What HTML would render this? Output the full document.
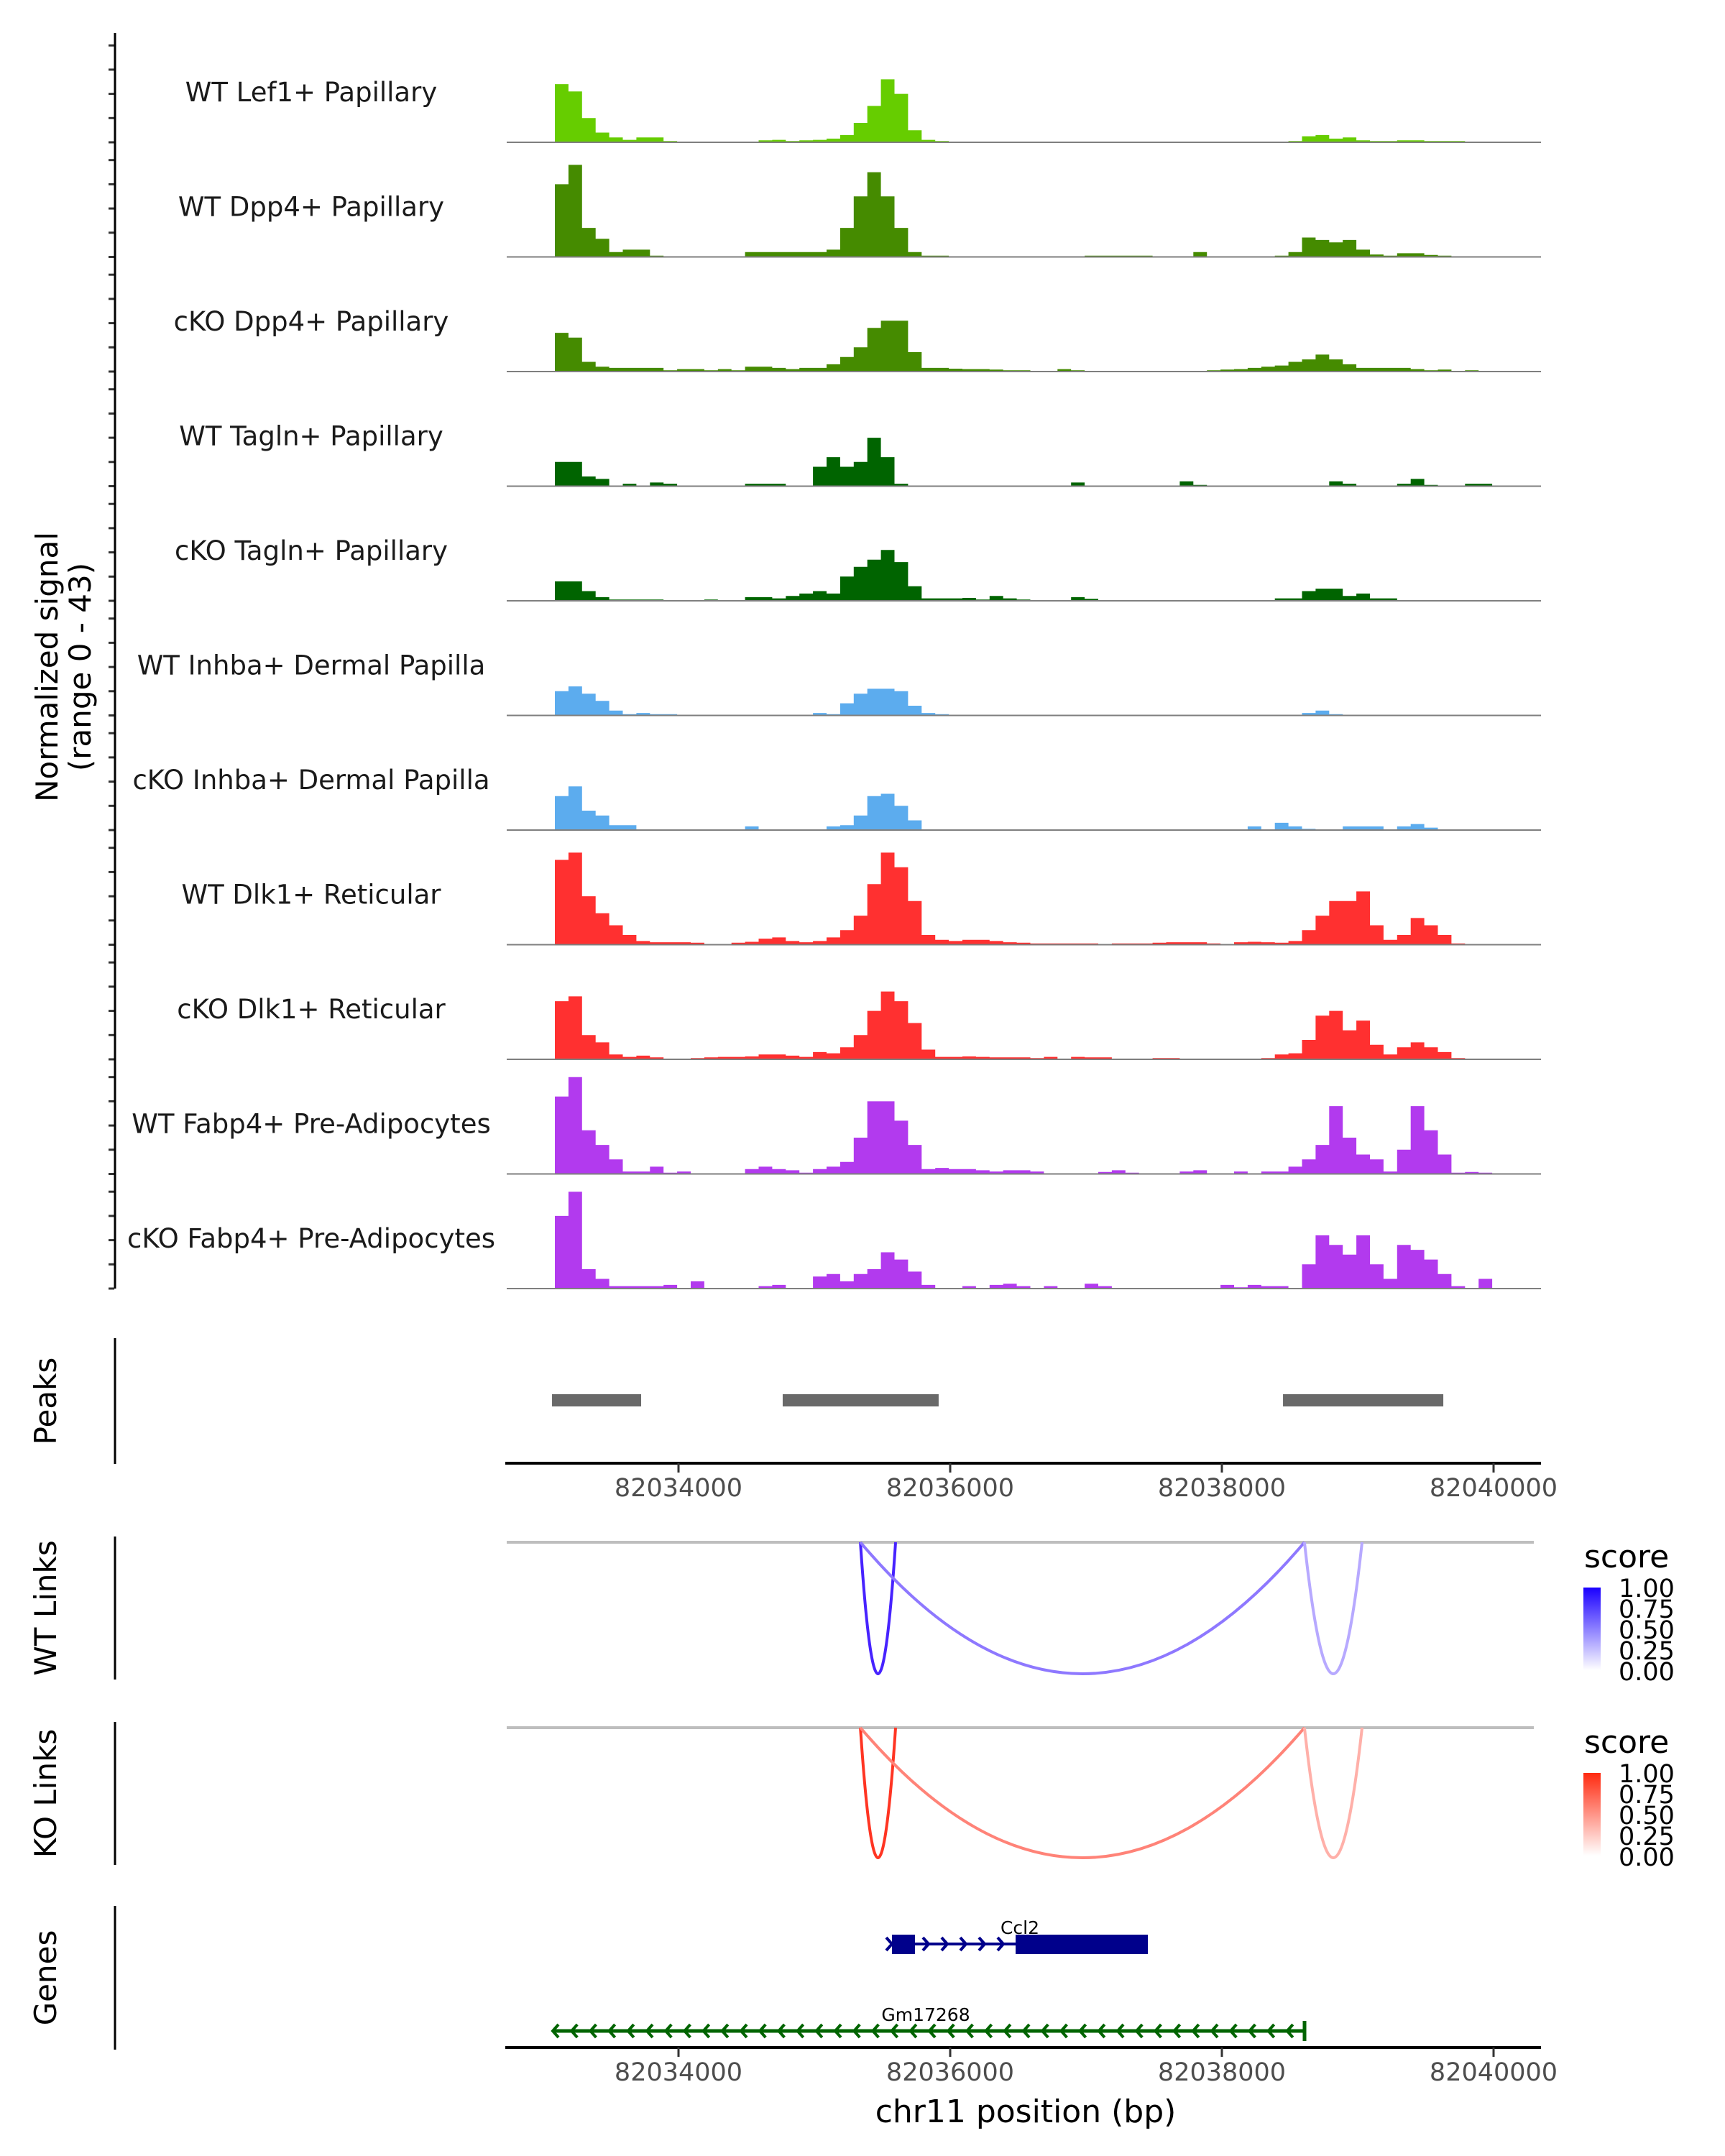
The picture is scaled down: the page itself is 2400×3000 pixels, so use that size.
<!DOCTYPE html>
<html><head><meta charset="utf-8">
<style>
html,body{margin:0;padding:0;background:#fff;}
svg{display:block;font-family:"DejaVu Sans","Liberation Sans",sans-serif;}
</style></head>
<body>
<svg id="chart" xmlns="http://www.w3.org/2000/svg" width="2400" height="3000" viewBox="0 0 2400 3000">
<rect width="2400" height="3000" fill="#fff"/>
<g id="tracks"></g>
<g id="peaks"></g>
<g id="links"></g>
<g id="genes"></g>
<g id="axes"></g>
</svg>
<script>
// ---------- data ----------
const trackNames = ["WT Lef1+ Papillary","WT Dpp4+ Papillary","cKO Dpp4+ Papillary","WT Tagln+ Papillary","cKO Tagln+ Papillary","WT Inhba+ Dermal Papilla","cKO Inhba+ Dermal Papilla","WT Dlk1+ Reticular","cKO Dlk1+ Reticular","WT Fabp4+ Pre-Adipocytes","cKO Fabp4+ Pre-Adipocytes"];
const trackColors = ["#66cd00","#458b00","#458b00","#006400","#006400","#5cacee","#5cacee","#ff3030","#ff3030","#b23aee","#b23aee"];
const binStart = 82033090;
const binSize = 100;
const sigLef1WT = [24,21,10,4,2,1,2,2,0.5,0.3,0.2,0.2,0.2,0.2,0.2,0.8,1,0.5,0.8,1,1.5,3,8,15,26,20,5,1,0.5,0.3,0.3,0.3,0.3,0.3,0.3,0.3,0.3,0.3,0.3,0.3,0.3,0.3,0.3,0.3,0.3,0.3,0.3,0.3,0.3,0.3,0.3,0.3,0.3,0.3,0.5,2.5,3,1.5,2,0.8,0.5,0.5,0.8,0.8,0.5,0.5,0.5,0.3,0];
const sigDpp4WT = [30,38,12,7.5,2,3,3,0.5,0.3,0,0,0,0,0,2,2,2,2,2,2,3,12,25,35,25,12,2,0.5,0.5,0,0,0,0,0,0,0,0,0,0,0.5,0.5,0.5,0.5,0.5,0.3,0.3,0.3,2,0.3,0.3,0.3,0.3,0.3,0.5,2,8,7,6,7,3,1,0.5,1.5,1.5,0.8,0.5,0,0,0];
const sigDpp4KO = [16,14,4,2,1.5,1.5,1.5,1.5,0.5,1,1,0.5,1,0.5,2,2,1.5,1,1.5,1.5,3,6,10,18,21,21,8,1.5,1.5,1.2,1,1,0.8,0.5,0.5,0.3,0.3,1,0.5,0.2,0.2,0.2,0.2,0.2,0.3,0.3,0.3,0.3,0.5,0.8,1,1.5,2,2.5,4,5,7,5,3,1.5,1.5,1.5,1.5,1,0.5,0.8,0.3,0.5,0];
const sigTaglnWT = [10,10,4,3,0,1,0,1.5,1,0,0,0,0,0,1,1,1,0,0,8,12,8,10,20,12,1,0,0,0,0,0,0,0,0,0,0,0,0,1.5,0,0,0,0,0,0,0,2,0.5,0,0,0,0,0,0,0,0,0,2,1,0,0,0,1,3,0.5,0,0,1,1];
const sigTaglnKO = [8,8,4,1.5,0.5,0.5,0.5,0.5,0.3,0,0,0.5,0,0,1.5,1.5,1,2,3,4,3,10,14,17,21,16,6,1,1,1,1.2,0.5,2,1,0.5,0.3,0.3,0.3,1.5,0.8,0.3,0,0,0,0,0,0,0,0,0.3,0,0,0.3,1,1,4,5,5,2,3,1,1,0.3,0.3,0.3,0,0,0,0];
const sigInhbaWT = [10,12,9,6,2,0.5,1,0.5,0.5,0.2,0.2,0.2,0.2,0.2,0.2,0.2,0.2,0.2,0.2,1,0.5,5,9,11,11,10,4,1,0.5,0.3,0,0.3,0.3,0.3,0,0,0,0,0,0,0,0,0,0,0,0,0,0,0,0,0,0.3,0,0.3,0,1,2,0.5,0.3,0,0,0,0,0.3,0.3,0.3,0,0,0];
const sigInhbaKO = [14,18,8,6,2,2,0,0,0,0,0,0,0,0,1.5,0,0,0,0,0,1.5,2,6,14,15,10,4,0,0,0,0,0,0,0,0,0,0,0,0,0,0,0,0,0,0,0,0,0,0,0,0,1.5,0,3,1.5,0.5,0,0,1.5,1.5,1.5,0,1.5,2.5,1,0,0,0,0];
const sigDlk1WT = [35,38,20,13,8,4,1.5,1,1,1,0.8,0.3,0,0.8,1.2,2.5,3,1.5,1,1.5,3,6,12,25,38,32,18,4,2,1.5,2,2,1.5,1,0.8,0.5,0.5,0.5,0.5,0.5,0.3,0.5,0.5,0.5,0.8,1,1,1,0.5,0.3,1,1.2,1,0.8,1.5,6,12,18,18,22,8,2,4,11,8,4,0.5,0.3,0];
const sigDlk1KO = [24,26,10,7,2,1,1.5,0.8,0.3,0.3,0.5,0.8,1,1,1.2,2,2,1.5,1,3,2.5,5,10,20,28,24,15,4,1,1,1.2,1,0.8,0.8,0.8,0.5,1,0.3,1,0.8,0.8,0,0,0,0.5,0.5,0,0,0.3,0.3,0.3,0.3,0.5,2,2.5,8,18,20,12,16,6,2,5,7,5,3,0.5,0.3,0];
const sigFabp4WT = [32,40,18,12,6,1,1,3,0.5,1,0,0,0,0,2,3,2,1.5,0.5,2,3,5,15,30,30,22,12,2,2.5,2,2,1.5,1,1.5,1.5,1,0,0,0,0,0.8,1.5,0.5,0,0,0,1,1.5,0,0,1,0,1,1,3,6,12,28,15,8,6,1,10,28,18,8,0.5,0.8,0.5];
const sigFabp4KO = [30,40,8,4,1,1,1,1,1.5,0,3,0,0,0,0,1,1.5,0,0,5,6,3,6,8,15,12,7,1.5,0,0,1,0,1.5,2,1,0,1,0,0,2,1,0,0,0,0,0,0,0,0,1.5,0.5,1.5,1,1,0,10,22,18,14,22,10,4,18,16,12,6,1,0,4];
const trackSignals = [sigLef1WT,sigDpp4WT,sigDpp4KO,sigTaglnWT,sigTaglnKO,sigInhbaWT,sigInhbaKO,sigDlk1WT,sigDlk1KO,sigFabp4WT,sigFabp4KO];
const yRangeMax = 43;
const peakStarts = [82033069,82034767,82038450];
const peakEnds = [82033725,82035915,82039630];
const xTicks = [82034000,82036000,82038000,82040000];
const wtLinkStarts = [82035339,82035339,82038608];
const wtLinkEnds = [82035598,82038608,82039032];
const wtLinkScores = [0.9,0.55,0.35];
const koLinkStarts = [82035339,82035339,82038608];
const koLinkEnds = [82035598,82038608,82039032];
const koLinkScores = [0.9,0.55,0.35];
const legendTicks = ["1.00","0.75","0.50","0.25","0.00"];

// ---------- scales ----------
const NS = "http://www.w3.org/2000/svg";
function X(bp){ return 944 + (bp - 82034000) * 0.189; }
const pxPerUnit = 3.37;
function baseY(i){ return 198 + i * 159.5; }
function mk(tag, attrs, parent){ const e = document.createElementNS(NS, tag); for (const k in attrs) e.setAttribute(k, attrs[k]); parent.appendChild(e); return e; }
const gT = document.getElementById('tracks');
const gA = document.getElementById('axes');

// ---------- coverage tracks ----------
trackSignals.forEach((vals, i) => {
  const b = baseY(i);
  let d = "M" + X(binStart).toFixed(1) + "," + b;
  vals.forEach((v, k) => {
    const x0 = X(binStart + k * binSize), x1 = X(binStart + (k + 1) * binSize);
    const y = b - v * pxPerUnit;
    d += "L" + x0.toFixed(1) + "," + y.toFixed(1) + "L" + x1.toFixed(1) + "," + y.toFixed(1);
  });
  d += "L" + X(binStart + vals.length * binSize).toFixed(1) + "," + b + "Z";
  const p = mk('path', {d: d, fill: trackColors[i]}, gT);
  
  
  const ln = mk('line', {x1: 705, x2: 2144, y1: b, y2: b, stroke: '#7f7f7f', 'stroke-width': 2}, gT);
  
  
  const t = mk('text', {x: 433, y: b - 57, 'text-anchor': 'middle', 'font-size': 37, fill: '#1a1a1a'}, gT);
  t.textContent = trackNames[i];
  
  
  for (let j = 0; j < 5; j++) {
    const ty = b - j * 10 * pxPerUnit;
    const tk = mk('line', {x1: 151, x2: 159, y1: ty, y2: ty, stroke: '#333', 'stroke-width': 3}, gA);
    
    
  }
});
let yl = mk('line', {x1: 160, x2: 160, y1: 46, y2: 1793, stroke: '#000', 'stroke-width': 3}, gA);


let yt = mk('text', {transform: 'translate(80,928) rotate(-90)', 'text-anchor': 'middle', 'font-size': 42, fill: '#000'}, gA);


mk('tspan', {x: 0, y: 0}, yt).textContent = "Normalized signal";
mk('tspan', {x: 0, y: 46}, yt).textContent = "(range 0 - 43)";

// ---------- side titles & axis lines ----------
function sideTitle(label, y0, y1, name){
  const l = mk('line', {x1: 160, x2: 160, y1: y0, y2: y1, stroke: '#000', 'stroke-width': 3}, gA);
  
  
  const t = mk('text', {transform: 'translate(78,' + ((y0 + y1) / 2) + ') rotate(-90)', 'text-anchor': 'middle', 'font-size': 42, fill: '#000'}, gA);
  t.textContent = label;
  
  
}
sideTitle("Peaks", 1862, 2037, 'peaks');
sideTitle("WT Links", 2138, 2337, 'wt-links');
sideTitle("KO Links", 2396, 2595, 'ko-links');
sideTitle("Genes", 2652, 2852, 'genes');

function xAxis(y, name){
  const l = mk('line', {x1: 703, x2: 2144, y1: y, y2: y, stroke: '#000', 'stroke-width': 4}, gA);
  
  
  xTicks.forEach(v => {
    const tk = mk('line', {x1: X(v), x2: X(v), y1: y, y2: y + 13, stroke: '#333', 'stroke-width': 3}, gA);
    
    
    const t = mk('text', {x: X(v), y: y + 46, 'text-anchor': 'middle', 'font-size': 35, fill: '#4d4d4d'}, gA);
    t.textContent = String(v);
    
    
  });
}
xAxis(2036, 'peaks-x-axis');
xAxis(2849, 'x-axis');
let xt = mk('text', {x: 1427, y: 2953, 'text-anchor': 'middle', 'font-size': 44, fill: '#000'}, gA);
xt.textContent = "chr11 position (bp)";



// ---------- peaks ----------
const gP = document.getElementById('peaks');
peakStarts.forEach((s, i) => {
  const r = mk('rect', {x: X(s), y: 1940, width: X(peakEnds[i]) - X(s), height: 17, fill: '#696969'}, gP);
  
  
});

// ---------- links ----------
const gL = document.getElementById('links');
function mix(c, s){ const r = Math.round(255 + (c[0] - 255) * s), g = Math.round(255 + (c[1] - 255) * s), b = Math.round(255 + (c[2] - 255) * s); return `rgb(${r},${g},${b})`; }
function linkTrack(starts, ends, scores, y0, y1, hi, name){
  const gl = mk('line', {x1: 705, x2: 2134, y1: y0, y2: y0, stroke: '#bebebe', 'stroke-width': 4}, gL);
  
  
  starts.forEach((s, i) => {
    const a = X(s), b = X(ends[i]), m = (a + b) / 2, cy = y0 + 2 * (y1 - y0);
    const p = mk('path', {d: `M${a},${y0} Q${m},${cy} ${b},${y0}`, fill: 'none', stroke: mix(hi, scores[i]), 'stroke-width': 4}, gL);
    
    
  });
}
linkTrack(wtLinkStarts, wtLinkEnds, wtLinkScores, 2146, 2329, [50, 10, 255], 'wt-link');
linkTrack(koLinkStarts, koLinkEnds, koLinkScores, 2404, 2585, [255, 30, 10], 'ko-link');

// legends
const defs = mk('defs', {}, document.getElementById('chart'));
function legend(y0, colorTop, id, name){
  const lg = mk('linearGradient', {id: id, x1: 0, y1: 0, x2: 0, y2: 1}, defs);
  mk('stop', {offset: 0, 'stop-color': colorTop}, lg);
  mk('stop', {offset: 1, 'stop-color': '#ffffff'}, lg);
  const t = mk('text', {x: 2204, y: y0, 'font-size': 44, fill: '#000'}, gL);
  t.textContent = "score";
  
  
  const r = mk('rect', {x: 2203, y: y0 + 28, width: 24, height: 115, fill: `url(#${id})`}, gL);
  
  
  legendTicks.forEach((lab, j) => {
    const tt = mk('text', {x: 2252, y: y0 + 41 + j * 29, 'font-size': 35, fill: '#000'}, gL);
    tt.textContent = lab;
    
    
  });
}
legend(2181, '#1a00ff', 'gWT', 'wt-legend');
legend(2439, '#ff2a10', 'gKO', 'ko-legend');

// ---------- genes ----------
const gG = document.getElementById('genes');
function chevrons(x0, x1, y, dir, color, step){
  let d = "";
  for (let x = x0; x <= x1; x += step){
    if (dir > 0) d += `M${x-4},${y-9} L${x+4},${y} L${x-4},${y+9} `;
    else d += `M${x+4},${y-9} L${x-4},${y} L${x+4},${y+9} `;
  }
  const p = mk('path', {d: d, fill: 'none', stroke: color, 'stroke-width': 4}, gG);
  
  
}
let c1 = mk('line', {x1: 1241, x2: 1597, y1: 2705, y2: 2705, stroke: '#00008b', 'stroke-width': 4}, gG);


let e1 = mk('rect', {x: 1241, y: 2692, width: 32, height: 27, fill: '#00008b'}, gG);


let e2 = mk('rect', {x: 1413, y: 2692, width: 184, height: 27, fill: '#00008b'}, gG);


chevrons(1237, 1240, 2705, 1, '#00008b', 26);
chevrons(1288, 1395, 2705, 1, '#00008b', 26);
let cl = mk('text', {x: 1419, y: 2691, 'text-anchor': 'middle', 'font-size': 25, fill: '#000'}, gG);
cl.textContent = "Ccl2";


let g2 = mk('line', {x1: 769, x2: 1815, y1: 2826, y2: 2826, stroke: '#006400', 'stroke-width': 5}, gG);


let g2e = mk('line', {x1: 1815, x2: 1815, y1: 2812, y2: 2840, stroke: '#006400', 'stroke-width': 5}, gG);


chevrons(773, 1805, 2826, -1, '#006400', 26.2);
let gl2 = mk('text', {x: 1288, y: 2812, 'text-anchor': 'middle', 'font-size': 25, fill: '#000'}, gG);
gl2.textContent = "Gm17268";


</script>
</body></html>
